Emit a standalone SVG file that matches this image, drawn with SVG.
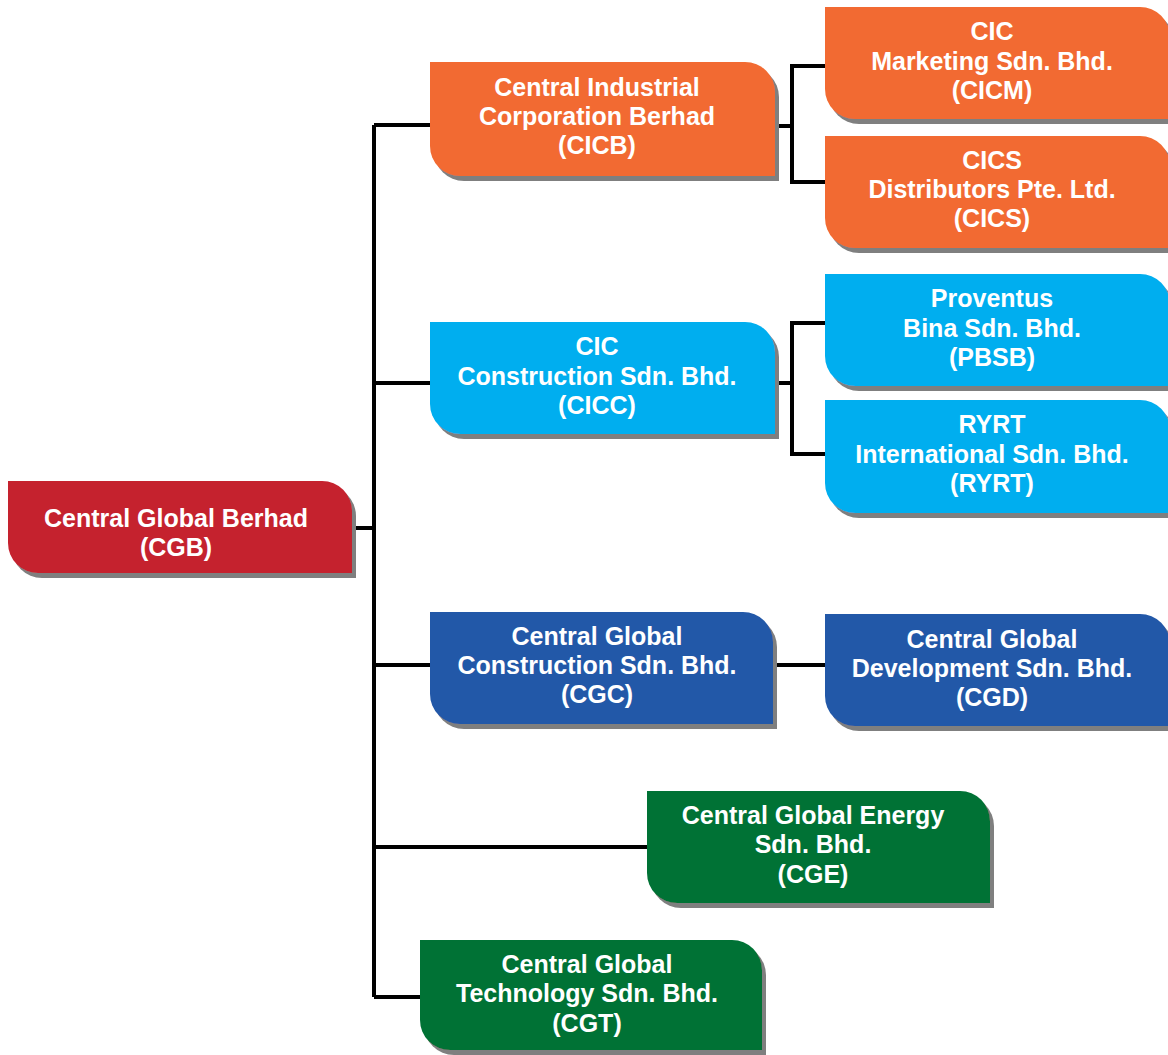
<svg xmlns="http://www.w3.org/2000/svg" width="1168" height="1055" viewBox="0 0 1168 1055">
<defs>
<filter id="sh" x="-5%" y="-5%" width="115%" height="120%">
<feOffset in="SourceAlpha" dx="4" dy="5" result="o"/>
<feFlood flood-color="#7f7f7f"/>
<feComposite in2="o" operator="in" result="s"/>
<feMerge><feMergeNode in="s"/><feMergeNode in="SourceGraphic"/></feMerge>
</filter>
</defs>
<style>
.box{filter:url(#sh)}
.red{fill:#C5202E}
.org{fill:#F26B30}
.lb{fill:#00AEEF}
.db{fill:#2358A8}
.gr{fill:#007236}
text{font-family:"Liberation Sans",Arial,sans-serif;font-weight:bold;font-size:25px;fill:#fff;text-anchor:middle}
.con{stroke:#000;stroke-width:4;fill:none}
</style>
<rect width="1168" height="1055" fill="#fff"/>
<g id="connectors" class="con">
<path d="M352 528 H374"/>
<path d="M374 125 V997"/>
<path d="M374 125 H430"/>
<path d="M374 383 H430"/>
<path d="M374 665 H430"/>
<path d="M374 847 H647"/>
<path d="M374 997 H420"/>
<path d="M775 126 H792"/>
<path d="M825 66 H792 V182 H825"/>
<path d="M775 383 H792"/>
<path d="M825 323 H792 V454 H825"/>
<path d="M773 665 H825"/>
</g>
<g id="CGB"><path class="box red" d="M8 481 H322 A30 30 0 0 1 352 511 V573 H38 A30 30 0 0 1 8 543 Z"/>
<text x="176" y="527">Central Global Berhad</text><text x="176" y="556">(CGB)</text></g>
<g id="CICB"><path class="box org" d="M430 62 H745 A30 30 0 0 1 775 92 V176 H460 A30 30 0 0 1 430 146 Z"/>
<text x="597" y="96">Central Industrial</text><text x="597" y="125">Corporation Berhad</text><text x="597" y="154">(CICB)</text></g>
<g id="CICM"><path class="box org" d="M825 7 H1140 A30 30 0 0 1 1170 37 V119 H855 A30 30 0 0 1 825 89 Z"/>
<text x="992" y="40">CIC</text><text x="992" y="70">Marketing Sdn. Bhd.</text><text x="992" y="99">(CICM)</text></g>
<g id="CICS"><path class="box org" d="M825 136 H1140 A30 30 0 0 1 1170 166 V248 H855 A30 30 0 0 1 825 218 Z"/>
<text x="992" y="169">CICS</text><text x="992" y="198">Distributors Pte. Ltd.</text><text x="992" y="227">(CICS)</text></g>
<g id="CICC"><path class="box lb" d="M430 322 H745 A30 30 0 0 1 775 352 V434 H460 A30 30 0 0 1 430 404 Z"/>
<text x="597" y="355">CIC</text><text x="597" y="385">Construction Sdn. Bhd.</text><text x="597" y="414">(CICC)</text></g>
<g id="PBSB"><path class="box lb" d="M825 274 H1140 A30 30 0 0 1 1170 304 V386 H855 A30 30 0 0 1 825 356 Z"/>
<text x="992" y="307">Proventus</text><text x="992" y="337">Bina Sdn. Bhd.</text><text x="992" y="366">(PBSB)</text></g>
<g id="RYRT"><path class="box lb" d="M825 400 H1140 A30 30 0 0 1 1170 430 V513 H855 A30 30 0 0 1 825 483 Z"/>
<text x="992" y="433">RYRT</text><text x="992" y="463">International Sdn. Bhd.</text><text x="992" y="492">(RYRT)</text></g>
<g id="CGC"><path class="box db" d="M430 612 H743 A30 30 0 0 1 773 642 V724 H460 A30 30 0 0 1 430 694 Z"/>
<text x="597" y="645">Central Global</text><text x="597" y="674">Construction Sdn. Bhd.</text><text x="597" y="703">(CGC)</text></g>
<g id="CGD"><path class="box db" d="M825 614 H1140 A30 30 0 0 1 1170 644 V726 H855 A30 30 0 0 1 825 696 Z"/>
<text x="992" y="648">Central Global</text><text x="992" y="677">Development Sdn. Bhd.</text><text x="992" y="706">(CGD)</text></g>
<g id="CGE"><path class="box gr" d="M647 791 H960 A30 30 0 0 1 990 821 V903 H677 A30 30 0 0 1 647 873 Z"/>
<text x="813" y="824">Central Global Energy</text><text x="813" y="853">Sdn. Bhd.</text><text x="813" y="883">(CGE)</text></g>
<g id="CGT"><path class="box gr" d="M420 940 H732 A30 30 0 0 1 762 970 V1050 H450 A30 30 0 0 1 420 1020 Z"/>
<text x="587" y="973">Central Global</text><text x="587" y="1002">Technology Sdn. Bhd.</text><text x="587" y="1032">(CGT)</text></g>
</svg>
